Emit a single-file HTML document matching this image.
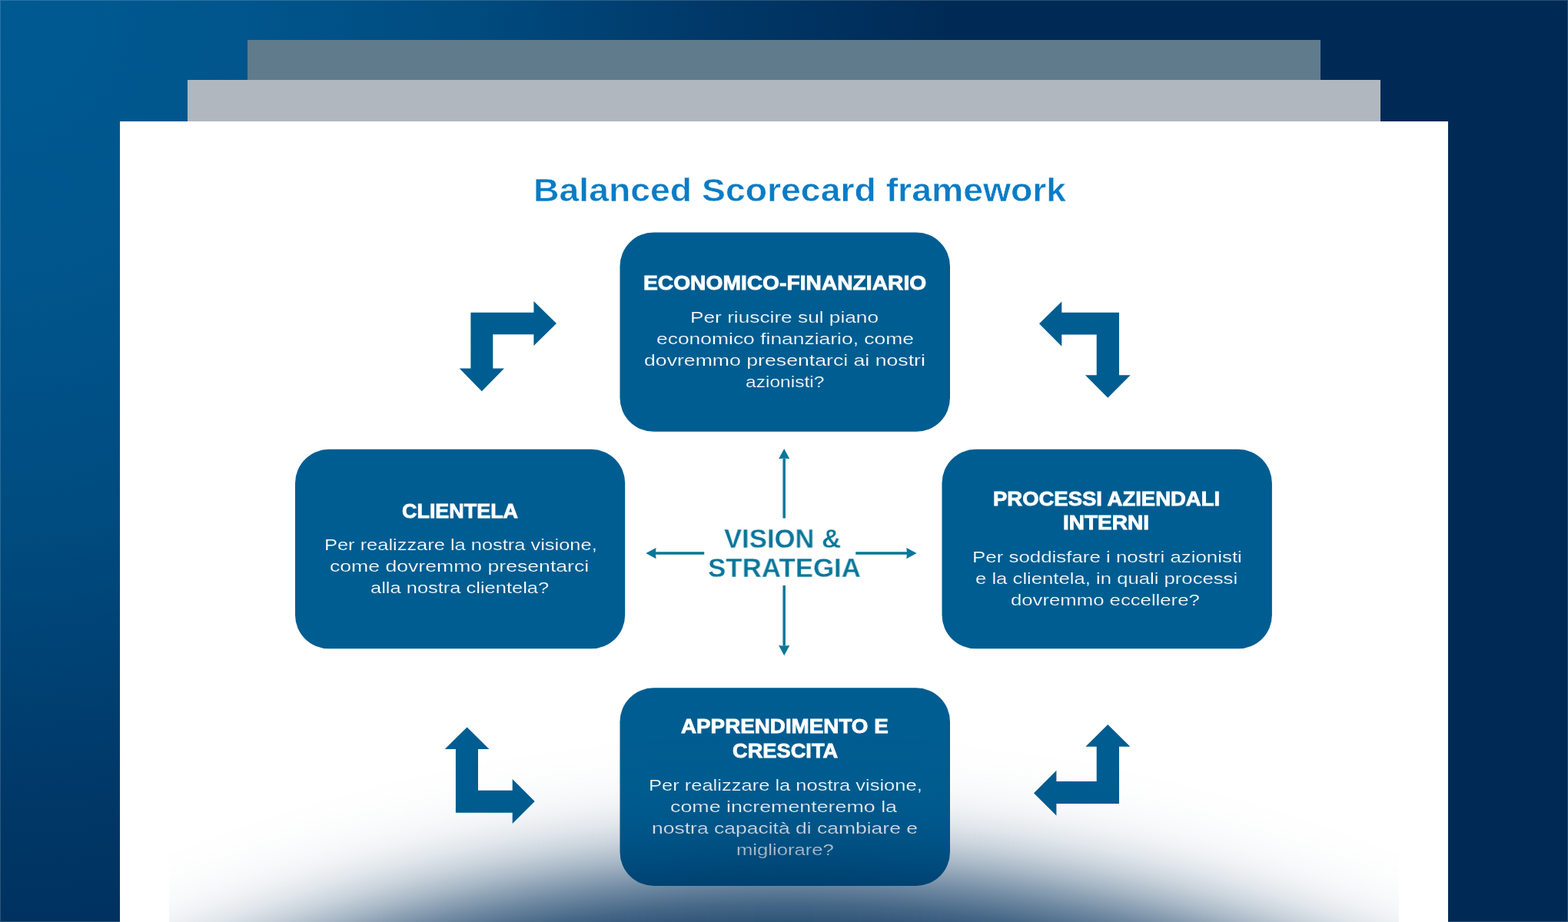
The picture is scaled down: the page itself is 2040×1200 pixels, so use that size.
<!DOCTYPE html>
<html lang="it">
<head>
<meta charset="utf-8">
<title>Balanced Scorecard framework</title>
<style>
html,body,h1,h2,p{margin:0;padding:0}
body{width:2040px;height:1200px;overflow:hidden;position:relative;font-family:"Liberation Sans", sans-serif;
background:#002a56 radial-gradient(ellipse 1240px 1390px at 0 0,#005a92 0%,#00568d 25%,#004b7f 50%,#003868 75%,#002a56 100%) no-repeat}
.c1,.c2,.c3,.t,.sh,.ed,svg{position:absolute}
.ed{left:0;top:0;width:2040px;height:1200px;box-sizing:border-box;border:1px solid rgba(255,255,255,.17);pointer-events:none}
.c1{left:322px;top:52px;width:1396px;height:60px;background:#607b8c}
.c2{left:244px;top:104px;width:1552px;height:60px;background:#b0b7be}
.c3{left:156px;top:158px;width:1728px;height:1042px;background:#fff}
.t{display:block;white-space:nowrap;line-height:1;transform-origin:0 0;color:#fff;will-change:transform}
.ti{font-size:42.4px;font-weight:700;color:#0a7cc5;-webkit-text-stroke:.5px #fff}
.h{font-size:26.3px;font-weight:700;-webkit-text-stroke:.85px #fff}
.b{font-size:21px;font-weight:400;-webkit-text-stroke:.2px #005d91}
.c{font-size:35.2px;font-weight:700;color:#09769a;-webkit-text-stroke:.3px #fff}
.sh{left:220px;top:940px;width:1600px;height:260px;pointer-events:none;
background:radial-gradient(circle 2203.6px at 800px 2164.2px,rgba(0,46,90,0.930) 79.125%,rgba(0,46,90,0.930) 80.169%,rgba(0,46,90,0.929) 81.213%,rgba(0,46,90,0.927) 82.256%,rgba(0,46,90,0.920) 83.300%,rgba(0,46,90,0.904) 84.344%,rgba(0,46,90,0.872) 85.388%,rgba(0,46,90,0.814) 86.431%,rgba(0,46,90,0.724) 87.475%,rgba(0,46,90,0.604) 88.519%,rgba(0,46,90,0.465) 89.563%,rgba(0,46,90,0.326) 90.606%,rgba(0,46,90,0.206) 91.650%,rgba(0,46,90,0.116) 92.694%,rgba(0,46,90,0.058) 93.738%,rgba(0,46,90,0.026) 94.781%,rgba(0,46,90,0.010) 95.825%,rgba(0,46,90,0.003) 96.869%,rgba(0,46,90,0.001) 97.913%,rgba(0,46,90,0.000) 98.956%,rgba(0,46,90,0.000) 100.000%)}
</style>
</head>
<body>
<div class="ed"></div>
<div class="c1"></div>
<div class="c2"></div>
<div class="c3"></div>
<svg width="2040" height="1200" viewBox="0 0 2040 1200" style="left:0;top:0" fill="#005d91">
<rect x="806.5" y="302.5" width="429.5" height="259.3" rx="44"/>
<rect x="384" y="584.8" width="429.2" height="259.55" rx="44"/>
<rect x="1225.5" y="584.8" width="429.4" height="259.55" rx="44"/>
<rect x="806.5" y="895.3" width="429.5" height="257.6" rx="44"/>
<polygon points="612.4,406.7 694.4,406.7 694.4,392.0 724.0,421.0 694.4,450.0 694.4,435.3 641.3,435.3 641.3,479.6 656.0,479.6 626.8,509.3 597.7,479.6 612.4,479.6"/>
<polygon points="1456.0,406.7 1381.3,406.7 1381.3,392.4 1352.0,421.3 1381.3,450.7 1381.3,435.6 1426.7,435.6 1426.7,488.3 1412.0,488.3 1441.3,517.7 1470.7,488.3 1456.0,488.3"/>
<polygon points="592.9,1057.7 666.7,1057.7 666.7,1072.0 695.7,1043.0 666.7,1014.0 666.7,1028.7 622.0,1028.7 622.0,974.9 636.4,974.9 607.6,946.4 578.7,974.9 592.9,974.9"/>
<polygon points="1456.0,1046.0 1374.4,1046.0 1374.4,1061.6 1345.0,1032.3 1374.4,1002.7 1374.4,1016.9 1426.7,1016.9 1426.7,971.7 1412.3,971.7 1441.3,942.9 1470.4,971.7 1456.0,971.7"/>
<line x1="1020.2" y1="674.5" x2="1020.2" y2="596.6" stroke="#09769a" stroke-width="3.5"/><polygon fill="#09769a" points="1020.2,584.0 1027.3,597.3 1020.2,596.6 1013.1,597.3"/>
<line x1="1020.2" y1="762" x2="1020.2" y2="840.6" stroke="#09769a" stroke-width="3.5"/><polygon fill="#09769a" points="1020.2,853.2 1013.1,839.9 1020.2,840.6 1027.3,839.9"/>
<line x1="916.2" y1="720.1" x2="852.9" y2="720.1" stroke="#09769a" stroke-width="3.5"/><polygon fill="#09769a" points="840.3,720.1 853.6,713.0 852.9,720.1 853.6,727.2"/>
<line x1="1113.2" y1="720.1" x2="1180.0" y2="720.1" stroke="#09769a" stroke-width="3.5"/><polygon fill="#09769a" points="1192.6,720.1 1179.3,727.2 1180.0,720.1 1179.3,713.0"/>
</svg>
<h1 class="t ti" style="left:694.43px;top:227px;transform:scaleX(1.0936)">Balanced Scorecard framework</h1>
<section>
<h2><span class="t h" style="left:836.69px;top:355px;transform:scaleX(1.0725)">ECONOMICO-FINANZIARIO</span></h2>
<p><span class="t b" style="left:897.82px;top:402px;transform:scaleX(1.2498)">Per riuscire sul piano</span>
<span class="t b" style="left:853.85px;top:430px;transform:scaleX(1.2586)">economico finanziario, come</span>
<span class="t b" style="left:838.04px;top:458px;transform:scaleX(1.2691)">dovremmo presentarci ai nostri</span>
<span class="t b" style="left:969.92px;top:486px;transform:scaleX(1.1698)">azionisti?</span></p>
</section>
<section>
<h2><span class="t h" style="left:523.09px;top:652px;transform:scaleX(1.0238)">CLIENTELA</span></h2>
<p><span class="t b" style="left:422.09px;top:698px;transform:scaleX(1.2108)">Per realizzare la nostra visione,</span>
<span class="t b" style="left:429.44px;top:726px;transform:scaleX(1.2670)">come dovremmo presentarci</span>
<span class="t b" style="left:482.38px;top:754px;transform:scaleX(1.2127)">alla nostra clientela?</span></p>
</section>
<section>
<h2><span class="t h" style="left:1292.13px;top:636px;transform:scaleX(1.0447)">PROCESSI AZIENDALI</span>
<span class="t h" style="left:1383.20px;top:667px;transform:scaleX(1.0646)">INTERNI</span></h2>
<p><span class="t b" style="left:1264.66px;top:714px;transform:scaleX(1.2320)">Per soddisfare i nostri azionisti</span>
<span class="t b" style="left:1269.48px;top:742px;transform:scaleX(1.2228)">e la clientela, in quali processi</span>
<span class="t b" style="left:1315.47px;top:770px;transform:scaleX(1.2243)">dovremmo eccellere?</span></p>
</section>
<section>
<h2><span class="t h" style="left:885.51px;top:932px;transform:scaleX(1.0569)">APPRENDIMENTO E</span>
<span class="t h" style="left:953.39px;top:964px;transform:scaleX(1.0356)">CRESCITA</span></h2>
<p><span class="t b" style="left:844.09px;top:1011px;transform:scaleX(1.2143)">Per realizzare la nostra visione,</span>
<span class="t b" style="left:872.03px;top:1039px;transform:scaleX(1.2766)">come incrementeremo la</span>
<span class="t b" style="left:847.72px;top:1067px;transform:scaleX(1.2613)">nostra capacità di cambiare e</span>
<span class="t b" style="left:957.57px;top:1095px;transform:scaleX(1.2216)">migliorare?</span></p>
</section>
<section>
<h2><span class="t c" style="left:942.35px;top:683px;transform:scaleX(0.9851)">VISION &amp;</span>
<span class="t c" style="left:921.31px;top:721px;transform:scaleX(0.9912)">STRATEGIA</span></h2>
</section>
<div class="sh"></div>
</body>
</html>
